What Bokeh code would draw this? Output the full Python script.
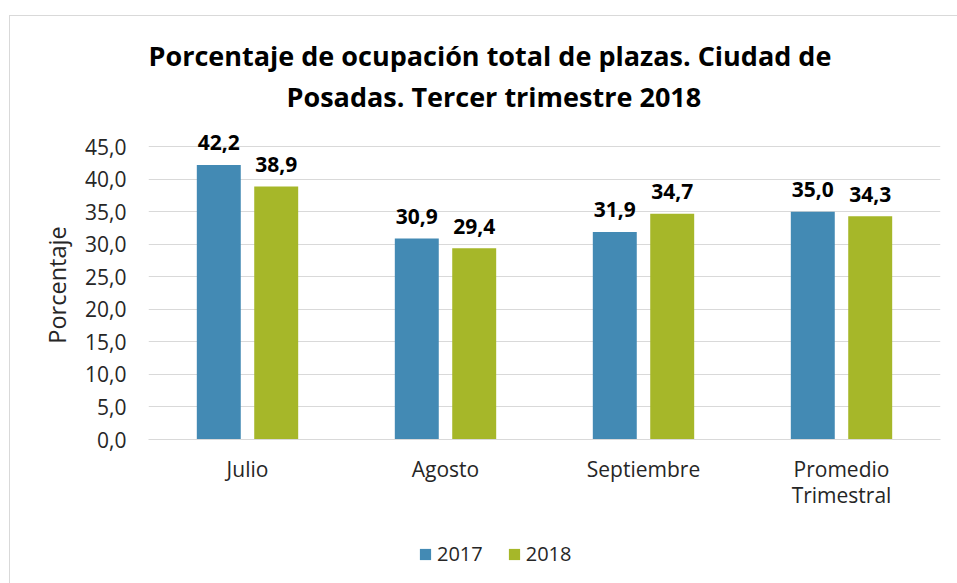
from bokeh.plotting import figure
from bokeh.layouts import column
from bokeh.models import ColumnDataSource, FactorRange, Range1d, FixedTicker, Legend, LegendItem, Title, InlineStyleSheet
from bokeh.transform import dodge
from bokeh.core.properties import value
from bokeh.embed import file_html
from bokeh.resources import INLINE

categories = ["Julio", "Agosto", "Septiembre", "Promedio\nTrimestral"]
v2017 = [42.2, 30.9, 31.9, 35.0]
v2018 = [38.9, 29.4, 34.7, 34.3]
series = ["2017", "2018"]
yticks = [0, 5, 10, 15, 20, 25, 30, 35, 40, 45]

FONT = "Open Sans"
BLUE = "#438AB4"
GREEN = "#A6B729"

src = ColumnDataSource(dict(
    cat=categories, a=v2017, b=v2018,
    la=[f"{v:.1f}".replace(".", ",") for v in v2017],
    lb=[f"{v:.1f}".replace(".", ",") for v in v2018],
))

p = figure(x_range=FactorRange(*categories), y_range=Range1d(0, 47.5),
           width=941, height=527, output_backend="svg", toolbar_location=None,
           min_border_left=148, min_border_right=1, min_border_top=130, min_border_bottom=88)
p.outline_line_color = None
p.background_fill_color = "white"
p.border_fill_color = "white"
p.stylesheets = [InlineStyleSheet(css=":host::after { content: ''; position: absolute; left: 9px; top: 15px; right: -30px; bottom: -90px; border: 1px solid #d9d9d9; pointer-events: none; }")]

t2 = Title(text="Posadas. Tercer trimestre 2018", align="left", offset=138, text_font=FONT,
           text_font_size="27px", text_font_style="bold", text_color="#000000", standoff=31)
t1 = Title(text="Porcentaje de ocupación total de plazas. Ciudad de", align="left", offset=0, text_font=FONT,
           text_font_size="27px", text_font_style="bold", text_color="#000000", standoff=-27)
p.add_layout(t2, "above")
p.add_layout(t1, "above")

p.vbar(x=dodge("cat", -0.145, range=p.x_range), top="a", width=0.222, source=src,
       fill_color=BLUE, line_color=None)
p.vbar(x=dodge("cat", 0.145, range=p.x_range), top="b", width=0.222, source=src,
       fill_color=GREEN, line_color=None)

p.text(x=dodge("cat", -0.145, range=p.x_range), y="a", text="la", source=src,
       text_align="center", text_baseline="alphabetic", y_offset=-22,
       text_font=value(FONT), text_font_size="21px", text_font_style="bold", text_color="#000000")
p.text(x=dodge("cat", 0.145, range=p.x_range), y="b", text="lb", source=src,
       text_align="center", text_baseline="alphabetic", y_offset=-22,
       text_font=value(FONT), text_font_size="21px", text_font_style="bold", text_color="#000000")

p.yaxis.ticker = FixedTicker(ticks=yticks)
p.yaxis.major_label_overrides = {t: f"{t:.1f}".replace(".", ",") for t in yticks}
p.yaxis.axis_label = "Porcentaje"
p.yaxis.axis_label_text_font = FONT
p.yaxis.axis_label_text_font_size = "23.5px"
p.yaxis.axis_label_text_font_style = "normal"
p.yaxis.axis_label_text_color = "#262626"
p.yaxis.axis_label_standoff = 9
p.yaxis.major_label_text_font = FONT
p.yaxis.major_label_text_font_size = "21px"
p.yaxis.major_label_text_color = "#262626"
p.yaxis.major_label_standoff = 16
p.yaxis.axis_line_color = None
p.yaxis.major_tick_line_color = None
p.yaxis.minor_tick_line_color = None

p.xaxis.major_label_text_font = FONT
p.xaxis.major_label_text_font_size = "21px"
p.xaxis.major_label_text_color = "#262626"
p.xaxis.major_label_text_line_height = 0.95
p.xaxis.major_label_standoff = 9
p.xaxis.axis_line_color = "#d9d9d9"
p.xaxis.major_tick_line_color = None
p.xaxis.minor_tick_line_color = None

p.xgrid.grid_line_color = None
p.ygrid.grid_line_color = "#d9d9d9"
p.ygrid.ticker = FixedTicker(ticks=yticks)

# legend strip below the chart (its bars lie below the visible range; only the legend shows)
lf = figure(width=941, height=40, output_backend="svg", toolbar_location=None,
            min_border=0, x_range=FactorRange(*categories), y_range=Range1d(100, 101))
lf.axis.visible = False
lf.grid.visible = False
lf.outline_line_color = None
lf.background_fill_alpha = 0
lf.border_fill_alpha = 0
g1 = lf.vbar(x="cat", top="a", width=0.2, source=src, fill_color=BLUE, line_color=None)
g2 = lf.vbar(x="cat", top="b", width=0.2, source=src, fill_color=GREEN, line_color=None)
legend = Legend(items=[LegendItem(label=series[0], renderers=[g1], index=0),
                       LegendItem(label=series[1], renderers=[g2], index=0)],
                orientation="horizontal", location=(270, 0),
                label_text_font=FONT, label_text_font_size="20px", label_text_color="#262626",
                glyph_width=14, glyph_height=14, spacing=24, label_standoff=5,
                border_line_color=None, background_fill_alpha=0, padding=0, margin=0)
lf.add_layout(legend)

layout = column(p, lf, spacing=0)
open("out.html", "w").write(file_html(layout, INLINE))
